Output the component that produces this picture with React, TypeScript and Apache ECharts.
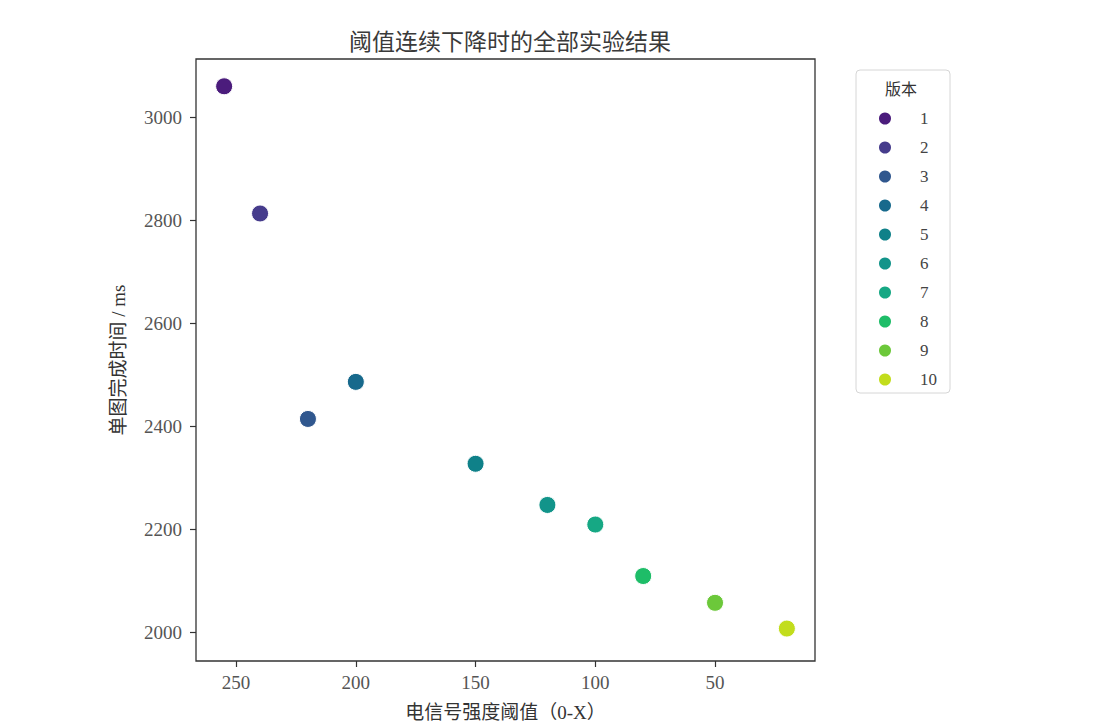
import React, { useEffect, useRef } from "react";
import * as echarts from "echarts";

const versions = ["1", "2", "3", "4", "5", "6", "7", "8", "9", "10"];
const thresholds = [255, 240, 220, 200, 150, 120, 100, 80, 50, 20];
const times = [3060, 2813, 2414, 2486, 2327, 2247, 2209, 2109, 2057, 2007];
const colors = [
  "#4b1c7c", "#463c8c", "#30578e", "#17698c", "#0f8189",
  "#12948a", "#16a884", "#1ebd68", "#6cc83a", "#c2dd1c",
];
const xTicks = [50, 100, 150, 200, 250];
const yTicks = [2000, 2200, 2400, 2600, 2800, 3000];

const TITLE = "阈值连续下降时的全部实验结果";
const X_NAME = "电信号强度阈值（0-X）";
const Y_NAME = "单图完成时间 / ms";
const LEGEND_TITLE = "版本";

const SERIF = "'Liberation Serif', 'DejaVu Serif', 'Noto Sans CJK SC', serif";
const CJK = "'Noto Sans CJK SC', sans-serif";

export default function App() {
  const ref = useRef<HTMLDivElement>(null);
  useEffect(() => {
    document.body.style.margin = "0";
    if (!ref.current) return;
    const chart = echarts.init(ref.current, undefined, { renderer: "svg" });
    const series = versions.map((v, i) => ({
      name: v,
      type: "scatter",
      data: [[thresholds[i], times[i]]],
      symbol: "circle",
      symbolSize: 17,
      itemStyle: { color: colors[i], borderColor: "#ffffff", borderWidth: 1, opacity: 1 },
    }));
    chart.setOption({
      animation: false,
      backgroundColor: "#ffffff",
      title: {
        text: TITLE,
        left: 505,
        textAlign: "center",
        top: 23,
        textStyle: { fontFamily: CJK, fontSize: 23, fontWeight: "normal", color: "#3a3a3a" },
      },
      grid: {
        left: 196,
        top: 59,
        width: 619,
        height: 602,
        show: true,
        borderColor: "#333",
        borderWidth: 1.3,
        backgroundColor: "#fff",
      },
      xAxis: {
        type: "value",
        inverse: true,
        min: 8.25,
        max: 266.75,
        splitLine: { show: false },
        axisLine: { show: false },
        axisTick: { show: true, length: 6, customValues: xTicks, lineStyle: { color: "#333", width: 1.2 } },
        axisLabel: {
          customValues: xTicks,
          formatter: (v: number) => String(v),
          margin: 12,
          fontFamily: SERIF,
          fontSize: 19,
          color: "#555",
        },
        name: X_NAME,
        nameLocation: "middle",
        nameGap: 42,
        nameTextStyle: { fontFamily: SERIF, fontSize: 19, color: "#333" },
      },
      yAxis: {
        type: "value",
        min: 1944,
        max: 3113,
        splitLine: { show: false },
        axisLine: { show: false },
        axisTick: { show: true, length: 6, customValues: yTicks, lineStyle: { color: "#333", width: 1.2 } },
        axisLabel: {
          customValues: yTicks,
          formatter: (v: number) => String(v),
          margin: 14,
          fontFamily: SERIF,
          fontSize: 19,
          color: "#555",
        },
        name: Y_NAME,
        nameLocation: "middle",
        nameRotate: 90,
        nameGap: 68,
        nameTextStyle: { fontFamily: SERIF, fontSize: 19, color: "#333" },
      },
      legend: {
        orient: "vertical",
        left: 872,
        top: 105,
        itemWidth: 60,
        itemHeight: 14,
        itemGap: 12,
        icon: "circle",
        data: versions,
        textStyle: { fontFamily: SERIF, fontSize: 17, color: "#444" },
      },
      graphic: [
        {
          type: "rect",
          shape: { x: 856, y: 70, width: 94, height: 323, r: 4 },
          style: { fill: "none", stroke: "#d6d6d6", lineWidth: 1 },
          z: 0,
        },
        {
          type: "text",
          x: 901,
          y: 88,
          style: {
            text: LEGEND_TITLE,
            fontFamily: CJK,
            fontSize: 16,
            fill: "#333",
            align: "center",
            verticalAlign: "middle",
          },
        },
      ],
      series,
    });
    return () => chart.dispose();
  }, []);
  return <div ref={ref} style={{ width: 1107, height: 727 }} />;
}
